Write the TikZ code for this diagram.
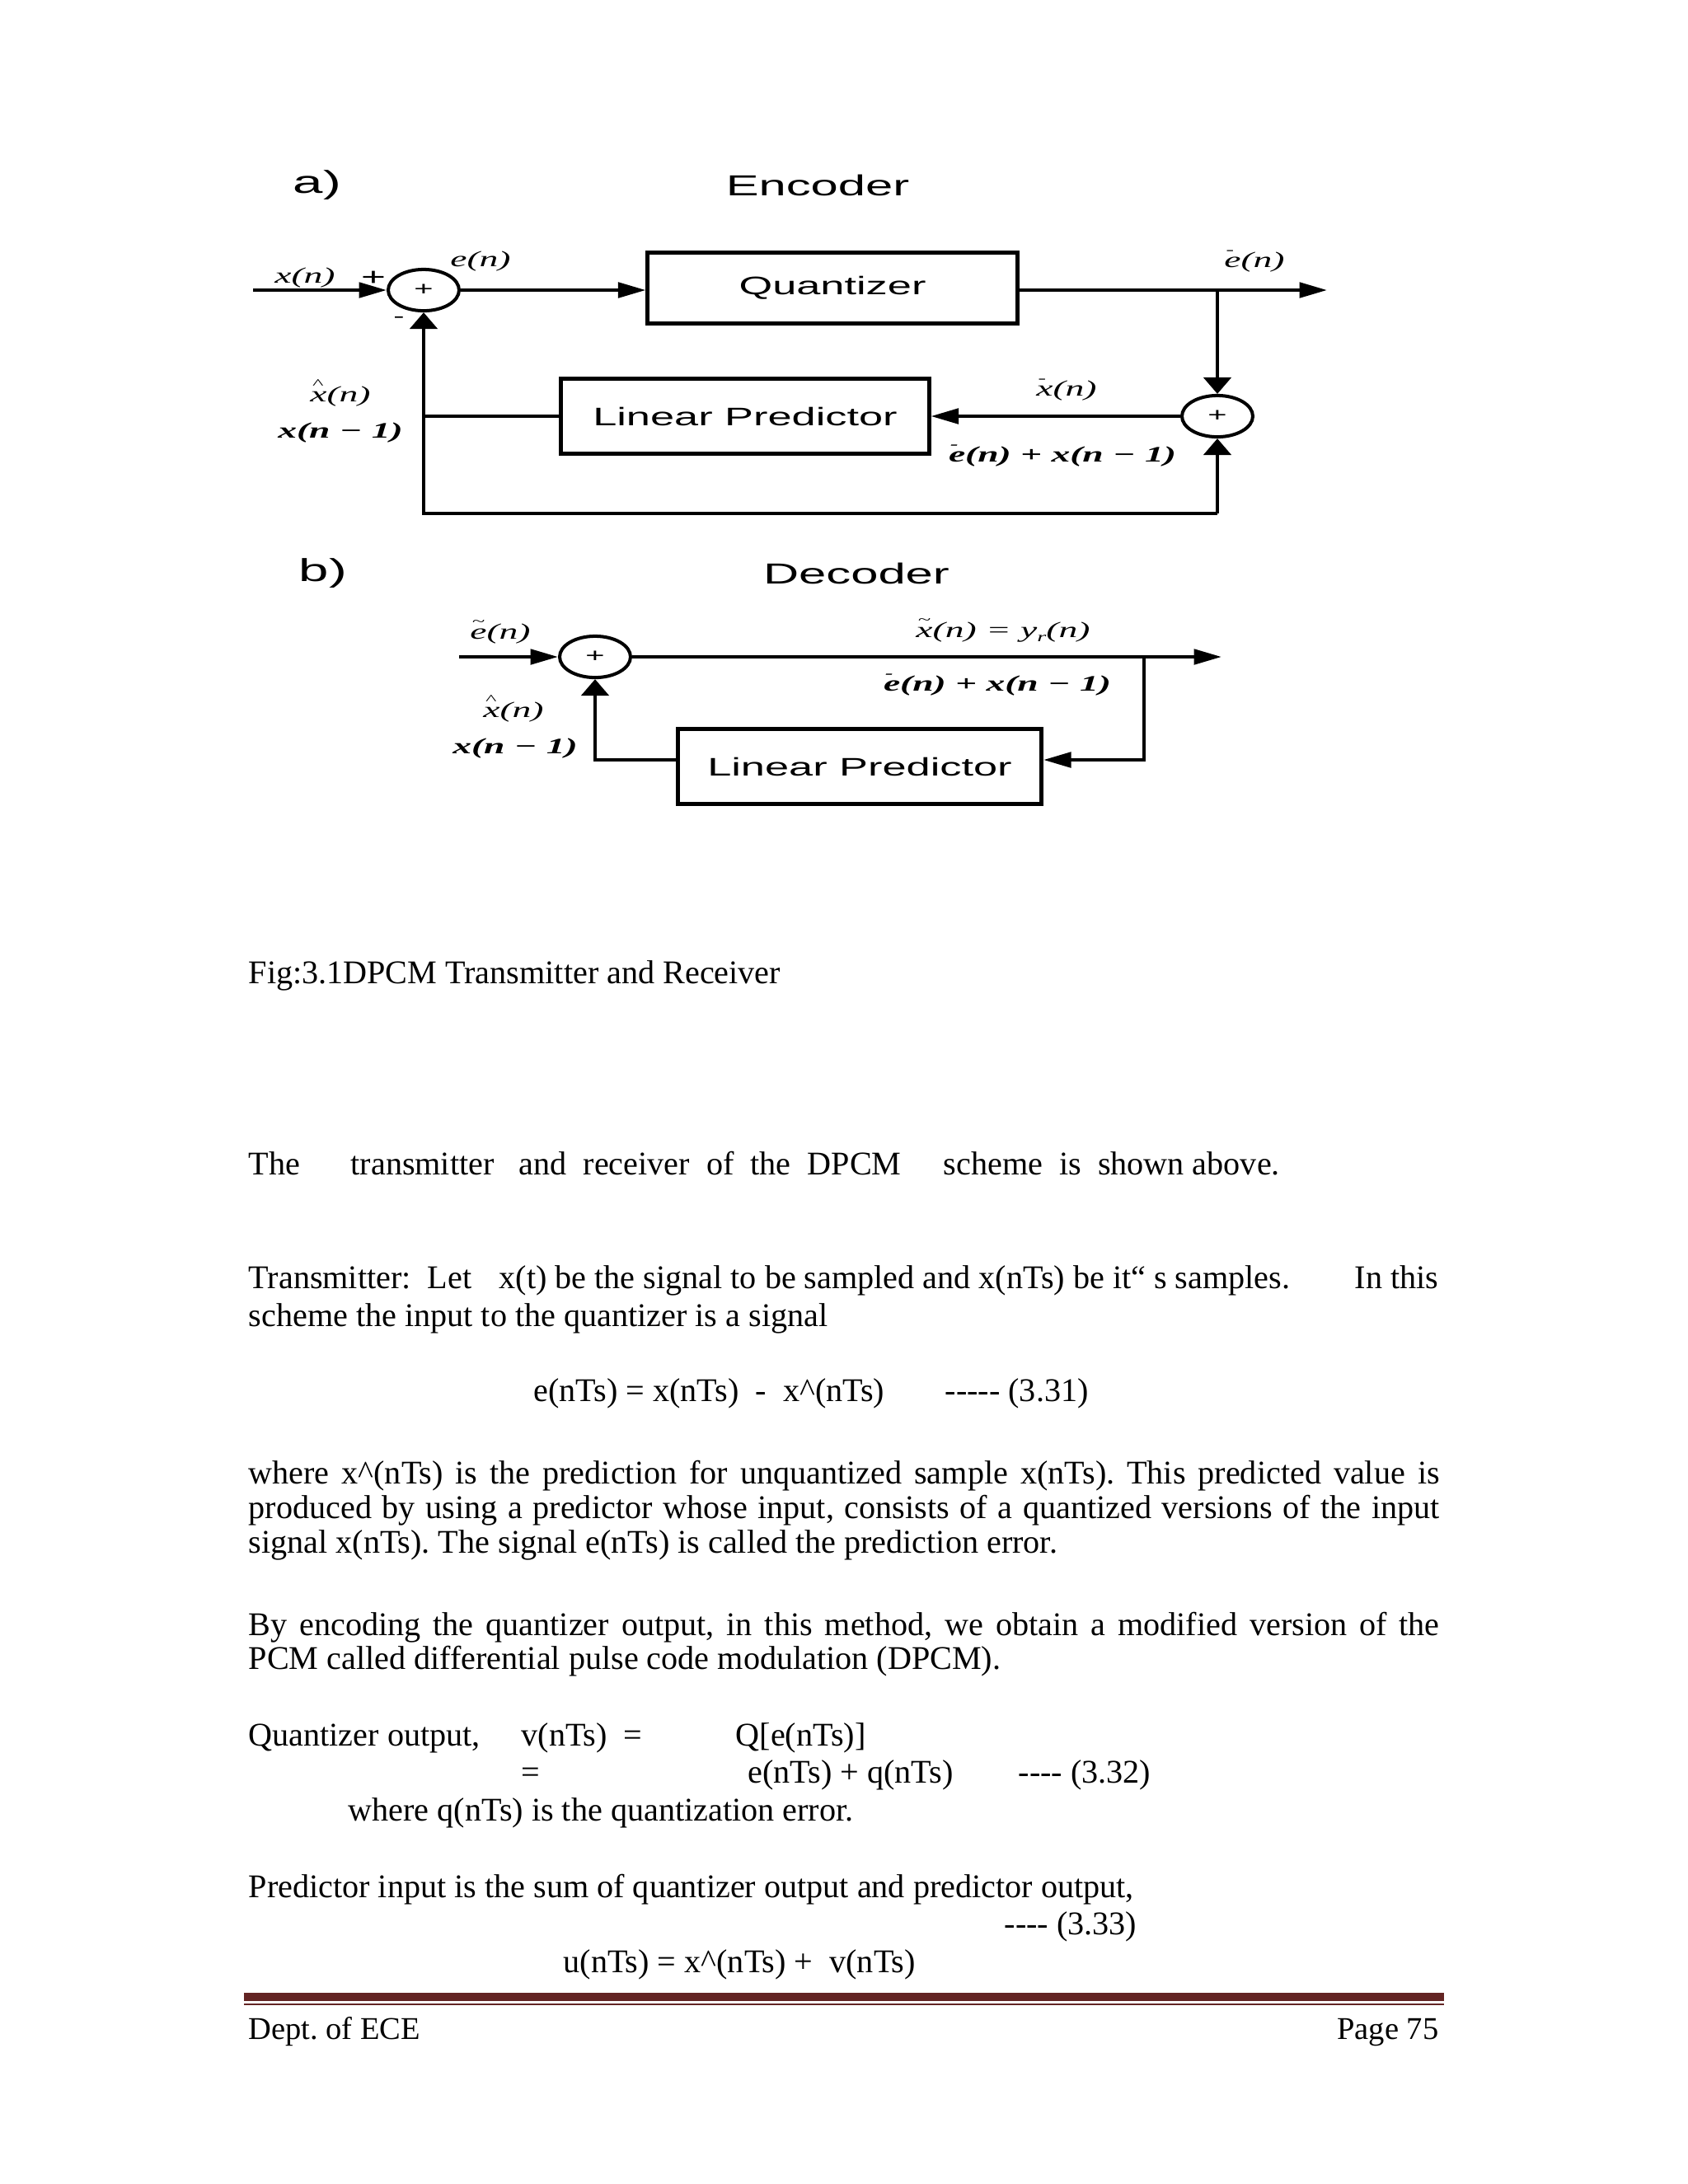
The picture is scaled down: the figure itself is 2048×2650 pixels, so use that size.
\documentclass[tikz,border=0pt]{standalone}
\usepackage{fontspec}
\setmainfont{Liberation Serif}
\newfontfamily\figsans[FakeStretch=1.7]{Liberation Sans}
\newfontfamily\figserif[FakeStretch=1.7]{Liberation Serif}
\usetikzlibrary{shapes.geometric, arrows.meta, positioning}
\definecolor{rulered}{RGB}{99,36,35}
\newcommand{\markon}[2]{\leavevmode\rlap{\raisebox{0.62em}{\kern0.08em\tiny #1}}#2}
\newcommand{\jline}[1]{\makebox[431.8pt][s]{#1}}
\frenchspacing

\begin{document}
\begin{tikzpicture}[x=0.29883pt, y=-0.29883pt,
  block/.style={draw, line width=1.5pt, inner sep=0pt, font=\figsans\fontsize{9.2}{11}\selectfont},
  adder/.style={draw, ellipse, line width=1.2pt, minimum width=25.7pt, minimum height=15pt, inner sep=0pt, font=\figsans\fontsize{7}{8}\selectfont},
  title/.style={inner sep=0pt, font=\figsans\fontsize{10.5}{12}\selectfont},
  sig/.style={inner sep=0pt, font=\figserif\itshape\fontsize{8}{9}\selectfont},
  sigb/.style={inner sep=0pt, font=\figserif\bfseries\itshape\fontsize{8}{9}\selectfont},
  wire/.style={line width=1.2pt},
  harrow/.style={wire, -{Triangle[length=10pt,width=5.5pt]}},
  varrow/.style={wire, -{Triangle[length=6pt,width=10pt]}},
  txt/.style={anchor=base west, inner sep=0pt, font=\fontsize{12}{14}\selectfont},
  foot/.style={anchor=base west, inner sep=0pt, font=\fontsize{11.5}{14}\selectfont}
]
  \useasboundingbox[fill=white] (0,0) rectangle (2048,2650);

  % a) encoder
  \node[title, font=\figsans\fontsize{11.5}{13}\selectfont] (enca) at (385,225) {a)};
  \node[title] (enctitle) at (992,225) {Encoder};
  \node[adder] (sumA) at (514,352) {+};
  \node[block, minimum width=133.9pt, minimum height=25.7pt] (quant) at (1010,349) {Quantizer};
  \node[adder] (sumB) at (1477,505) {+};
  \node[block, minimum width=133.3pt, minimum height=27.2pt] (predA) at (904,505) {Linear Predictor};
  \coordinate (inA) at (307,352);
  \coordinate (outA) at (1610,352);
  \coordinate (tapA) at (1477,352);
  \coordinate (loopA) at (514,623);
  \coordinate (loopB) at (1477,623);

  \draw[harrow] (inA) -- (sumA);
  \draw[harrow] (sumA) -- (quant.west |- sumA);
  \draw[harrow] (quant.east |- sumA) -- (outA);
  \draw[varrow] (tapA) -- (sumB);
  \draw[harrow] (sumB) -- (predA);
  \draw[wire] (predA) -- (predA.west -| sumA);
  \draw[varrow] (loopB) -- (loopA) -- (sumA);
  \draw[varrow] (loopB) -- (sumB);

  \node[sig] (lxn) at (370,337) {x(n)};
  \node[inner sep=0pt, font=\figsans\fontsize{9}{9}\selectfont] (lplus) at (453,338) {+};
  \node[inner sep=0pt, font=\figsans\fontsize{7}{8}\selectfont] (lminus) at (484,388) {-};
  \node[sig] (len) at (583,317) {e(n)};
  \node[sig] (leq) at (1522,317) {\markon{-}{e}(n)};
  \node[sig] (lxhat) at (413,477) {\markon{\textasciicircum}{x}(n)};
  \node[sigb] (lxdel) at (413,525) {x(n − 1)};
  \node[sig] (lxbar) at (1294,473) {\markon{-}{x}(n)};
  \node[sigb] (lsumA) at (1289,553) {\markon{-}{e}(n) + x(n − 1)};

  % b) decoder
  \node[title, font=\figsans\fontsize{11.5}{13}\selectfont] (decb) at (392,696) {b)};
  \node[title] (dectitle) at (1039,696) {Decoder};
  \node[adder] (sumC) at (722,797) {+};
  \node[block, minimum width=131.8pt, minimum height=27.2pt] (predC) at (1043,930) {Linear Predictor};
  \coordinate (inC) at (557,797);
  \coordinate (outC) at (1482,797);
  \coordinate (tapC) at (1388,797);
  \coordinate (backC) at (1388,922);
  \coordinate (loopC) at (722,922);

  \draw[harrow] (inC) -- (sumC);
  \draw[harrow] (sumC) -- (outC);
  \draw[harrow] (tapC) -- (backC) -- (predC.east |- backC);
  \draw[varrow] (predC.west |- loopC) -- (loopC) -- (sumC);

  \node[sig] (lec) at (607,767) {\markon{\textasciitilde}{e}(n)};
  \node[sig] (lxr) at (1217,765) {\markon{\textasciitilde}{x}(n) = y\raisebox{-0.35ex}{\tiny r}(n)};
  \node[sigb] (lsumC) at (1210,831) {\markon{-}{e}(n) + x(n − 1)};
  \node[sig] (lxhatC) at (623,860) {\markon{\textasciicircum}{x}(n)};
  \node[sigb] (lxdelC) at (625,908) {x(n − 1)};

  % text of the page
  \node[txt] (cap) at (301,1193) {Fig:3.1DPCM Transmitter and Receiver};
  \node[txt] (t1a) at (301,1425) {The};
  \node[txt] (t1b) at (425,1425) {transmitter};
  \node[txt] (t1c) at (629,1425) {and\ \ receiver\ \ of\ \ the\ \ DPCM};
  \node[txt] (t1d) at (1144,1425) {scheme\ \ is\ \ shown above.};
  \node[txt] (t2a) at (301,1563) {Transmitter:\ \ Let};
  \node[txt] (t2b) at (605,1563) {x(t) be the signal to be sampled and x(nTs) be it“ s samples.};
  \node[txt, anchor=base east] (t2c) at (1746,1563) {In this};
  \node[txt] (t3) at (301,1609) {scheme the input to the quantizer is a signal};
  \node[txt] (eq1) at (647,1700) {e(nTs) = x(nTs)\ \ -\ \ x\textasciicircum(nTs)};
  \node[txt] (eq1n) at (1146,1700) {-{}-{}-{}-{}- (3.31)};
  \node[txt] (t4) at (301,1800) {\jline{where x\textasciicircum(nTs) is the prediction for unquantized sample x(nTs). This predicted value is}};
  \node[txt] (t5) at (301,1842) {\jline{produced by using a predictor whose input, consists of a quantized versions of the input}};
  \node[txt] (t6) at (301,1884) {signal x(nTs). The signal e(nTs) is called the prediction error.};
  \node[txt] (t7) at (301,1984) {\jline{By encoding the quantizer output, in this method, we obtain a modified version of the}};
  \node[txt] (t8) at (301,2025) {PCM called differential pulse code modulation (DPCM).};
  \node[txt] (t9a) at (301,2118) {Quantizer output,};
  \node[txt] (t9b) at (632,2118) {v(nTs)\ \ =};
  \node[txt] (t9c) at (892,2118) {Q[e(nTs)]};
  \node[txt] (t10a) at (632,2163) {=};
  \node[txt] (t10b) at (907,2163) {e(nTs) + q(nTs)};
  \node[txt] (t10c) at (1235,2163) {-{}-{}-{}- (3.32)};
  \node[txt] (t11) at (422,2209) {where q(nTs) is the quantization error.};
  \node[txt] (t12) at (301,2302) {Predictor input is the sum of quantizer output and predictor output,};
  \node[txt] (t13) at (1218,2347) {-{}-{}-{}- (3.33)};
  \node[txt] (t14) at (683,2393) {u(nTs) = x\textasciicircum(nTs) +\ \ v(nTs)};

  % footer
  \draw[rulered, line width=3pt] (296,2423) -- (1752,2423);
  \draw[rulered, line width=0.75pt] (296,2432) -- (1752,2432);
  \node[foot] (dept) at (301,2474) {Dept. of ECE};
  \node[foot, anchor=base east] (page) at (1746,2474) {Page 75};
\end{tikzpicture}
\end{document}
